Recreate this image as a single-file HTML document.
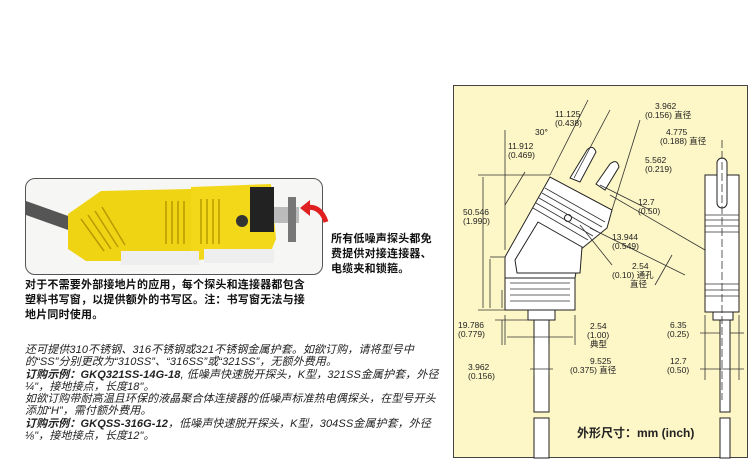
<!DOCTYPE html>
<html><head><meta charset="utf-8"><style>
body{margin:0;width:750px;height:460px;background:#fff;position:relative;overflow:hidden;font-family:"Liberation Sans","Noto Sans CJK SC",sans-serif;}
.t{position:absolute;white-space:nowrap;color:#111;}
.b{font-weight:bold;font-size:11px;line-height:15px;letter-spacing:0.2px;}
.i{font-style:italic;font-size:11px;line-height:12.3px;color:#222;letter-spacing:0.1px;}
</style></head><body>
<div style="position:absolute;left:25px;top:178px;width:296px;height:95px;border:1.5px solid #555;border-radius:10px;background:#f6f6f4;overflow:hidden">
<svg width="296" height="95">
<path d="M0 22 L45 38 L45 52 L0 36Z" fill="#555"/>
<polygon points="42,35 75,12 165,10 165,80 95,82 60,82 42,70" fill="#efd414"/>
<polygon points="165,8 245,5 250,60 245,72 165,82" fill="#f2d818"/>
<rect x="224" y="8" width="24" height="45" fill="#222"/>
<rect x="248" y="28" width="25" height="16" fill="#bbb"/>
<rect x="262" y="18" width="8" height="45" fill="#777"/>
<g stroke="#b89a00" stroke-width="1.5">
<line x1="140" y1="22" x2="140" y2="65"/><line x1="146" y1="22" x2="146" y2="65"/><line x1="152" y1="22" x2="152" y2="65"/><line x1="158" y1="22" x2="158" y2="65"/>
<line x1="175" y1="20" x2="175" y2="65"/><line x1="181" y1="20" x2="181" y2="65"/><line x1="187" y1="20" x2="187" y2="65"/><line x1="193" y1="20" x2="193" y2="65"/>
<line x1="55" y1="40" x2="78" y2="72"/><line x1="62" y1="36" x2="85" y2="70"/><line x1="69" y1="32" x2="92" y2="68"/><line x1="76" y1="28" x2="99" y2="66"/>
</g>
<rect x="95" y="72" width="78" height="14" fill="#eee"/><rect x="178" y="70" width="70" height="14" fill="#eee"/>
<circle cx="216" cy="42" r="6" fill="#333"/>
</svg></div>
<svg style="position:absolute;left:300px;top:196px" width="30" height="30"><path d="M26 26 Q20 8 4 12" stroke="#e02020" stroke-width="5" fill="none"/><polygon points="0,12 10,4 10,20" fill="#e02020"/></svg>
<div class="t b" style="left:331px;top:232px;line-height:15px">所有低噪声探头都免<br>费提供对接连接器、<br>电缆夹和锁箍。</div>
<div class="t b" style="left:25px;top:278px">对于不需要外部接地片的应用，每个探头和连接器都包含<br>塑料书写窗，以提供额外的书写区。注：书写窗无法与接<br>地片同时使用。</div>
<div class="t i" style="left:25px;top:344px">还可提供310不锈钢、316不锈钢或321不锈钢金属护套。如欲订购，请将型号中<br>的“SS”分别更改为“310SS”、“316SS”或“321SS”，无额外费用。<br><b>订购示例：GKQ321SS-14G-18</b>, 低噪声快速脱开探头，K型，321SS金属护套，外径<br>¼"，接地接点，长度18"。<br>如欲订购带耐高温且环保的液晶聚合体连接器的低噪声标准热电偶探头，在型号开头<br>添加“H”，需付额外费用。<br><b>订购示例：GKQSS-316G-12</b>，低噪声快速脱开探头，K型，304SS金属护套，外径<br>⅛"，接地接点，长度12"。</div>
<div style="position:absolute;left:453px;top:85px;width:293px;height:371px;border:1.5px solid #444;background:#fdf6c6"></div>
<svg style="position:absolute;left:0;top:0" width="750" height="460" font-family="Liberation Sans" font-size="8.5" fill="#222">
<g fill="#fff" stroke="#222" stroke-width="1">
<path d="M570 178 L587 150 Q593 144 596 152 L580 182Z"/>
<path d="M596 184 L610 164 Q617 158 619 167 L605 190Z"/>
<polygon points="505,257 550,177 612,210 607,228 580,250 575,278 505,278"/>
<polygon points="538,222 582,247 580,273 517,273 515,260"/>
<rect x="505" y="278" width="70" height="32"/>
<rect x="528" y="310" width="27" height="10"/>
<rect x="534" y="320" width="15" height="92"/>
<rect x="534" y="418" width="15" height="40"/>
<rect x="705" y="175" width="34" height="137"/>
<rect x="717" y="158" width="10" height="50" rx="5"/>
<rect x="713" y="312" width="20" height="8"/>
<rect x="720" y="320" width="10" height="92"/>
<rect x="720" y="418" width="10" height="40"/>
<circle cx="568" cy="218" r="3.5"/>
</g>
<g stroke="#333" stroke-width="0.8">
<line x1="510" y1="283" x2="570" y2="283"/><line x1="510" y1="289" x2="570" y2="289"/><line x1="510" y1="295" x2="570" y2="295"/><line x1="510" y1="301" x2="570" y2="301"/>
<line x1="545" y1="188" x2="605" y2="222"/><line x1="542" y1="193" x2="602" y2="227"/><line x1="539" y1="198" x2="598" y2="232"/><line x1="536" y1="203" x2="593" y2="236"/><line x1="533" y1="208" x2="588" y2="240"/>
<line x1="705" y1="215" x2="739" y2="215"/><line x1="705" y1="220" x2="739" y2="220"/><line x1="705" y1="226" x2="739" y2="226"/><line x1="705" y1="232" x2="739" y2="232"/>
<line x1="705" y1="284" x2="739" y2="284"/><line x1="705" y1="290" x2="739" y2="290"/><line x1="705" y1="296" x2="739" y2="296"/>
<line x1="722" y1="140" x2="722" y2="400" stroke-dasharray="8 3"/>
<line x1="505" y1="130" x2="505" y2="250"/><line x1="478" y1="175" x2="550" y2="175"/><line x1="478" y1="310" x2="505" y2="310"/><line x1="483" y1="177" x2="483" y2="308"/>
<line x1="490" y1="257" x2="505" y2="257"/><line x1="490" y1="259" x2="490" y2="308"/><line x1="502" y1="290" x2="502" y2="308"/><line x1="502" y1="320" x2="502" y2="345"/><line x1="495" y1="320" x2="528" y2="320"/>
<line x1="505" y1="315" x2="505" y2="345"/><line x1="575" y1="315" x2="575" y2="345"/><line x1="507" y1="337" x2="573" y2="337"/>
<line x1="534" y1="345" x2="534" y2="375"/><line x1="549" y1="345" x2="549" y2="375"/><line x1="530" y1="369" x2="553" y2="369"/>
<line x1="705" y1="315" x2="705" y2="380"/><line x1="739" y1="315" x2="739" y2="380"/><line x1="700" y1="369" x2="744" y2="369"/><line x1="700" y1="333" x2="720" y2="333"/><line x1="730" y1="333" x2="744" y2="333"/>
<line x1="550" y1="175" x2="588" y2="100"/><line x1="574" y1="178" x2="610" y2="110"/><line x1="612" y1="210" x2="640" y2="120"/>
<line x1="590" y1="228" x2="685" y2="275"/><line x1="610" y1="195" x2="705" y2="250"/><line x1="672" y1="255" x2="655" y2="285"/>
<line x1="600" y1="185" x2="650" y2="210"/><line x1="580" y1="225" x2="612" y2="265"/>
<line x1="525" y1="172" x2="505" y2="205"/>
</g>
<text x="555" y="117">11.125</text><text x="555" y="126">(0.438)</text>
<text x="508" y="149">11.912</text><text x="508" y="158">(0.469)</text>
<text x="535" y="135">30°</text>
<text x="655" y="109">3.962</text><text x="645" y="118">(0.156) 直径</text>
<text x="666" y="135">4.775</text><text x="660" y="144">(0.188) 直径</text>
<text x="645" y="163">5.562</text><text x="645" y="172">(0.219)</text>
<text x="638" y="205">12.7</text><text x="638" y="214">(0.50)</text>
<text x="612" y="240">13.944</text><text x="612" y="249">(0.549)</text>
<text x="632" y="269">2.54</text><text x="612" y="278">(0.10) 通孔</text><text x="630" y="287">直径</text>
<text x="463" y="215">50.546</text><text x="463" y="224">(1.990)</text>
<text x="458" y="328">19.786</text><text x="458" y="337">(0.779)</text>
<text x="590" y="329">2.54</text><text x="587" y="338">(1.00)</text><text x="590" y="347">典型</text>
<text x="468" y="370">3.962</text><text x="468" y="379">(0.156)</text>
<text x="590" y="364">9.525</text><text x="570" y="373">(0.375) 直径</text>
<text x="670" y="328">6.35</text><text x="667" y="337">(0.25)</text>
<text x="670" y="364">12.7</text><text x="667" y="373">(0.50)</text>
<text x="577" y="437" font-size="12" font-weight="bold" font-family="Liberation Sans,Noto Sans CJK SC">外形尺寸：mm (inch)</text>
</svg>
</body></html>
